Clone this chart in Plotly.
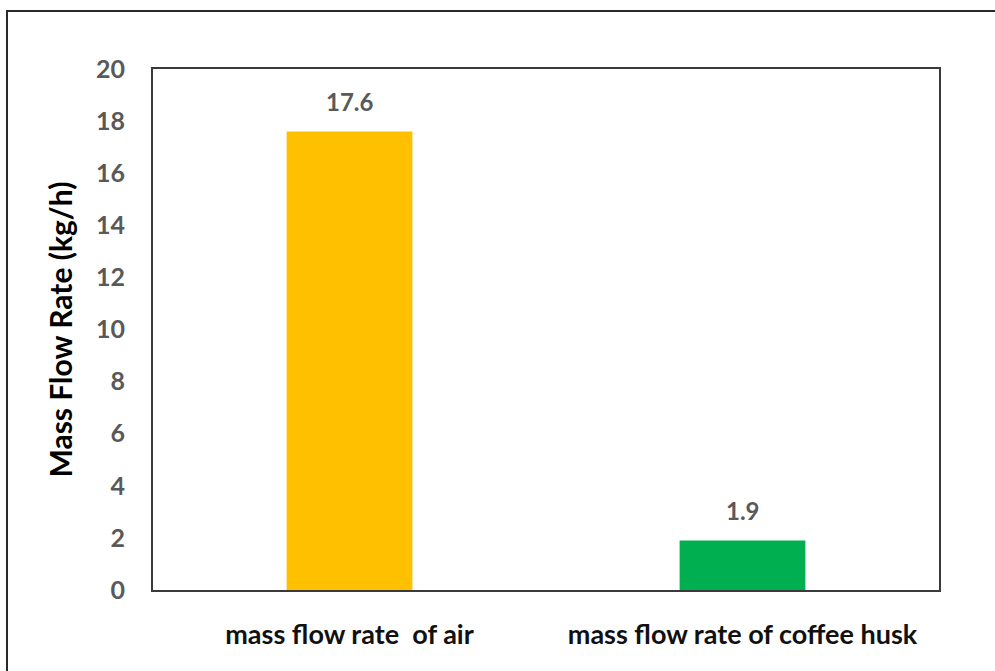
import plotly.graph_objects as go

categories = ["mass flow rate\u00a0\u00a0of air", "mass flow rate of coffee husk"]
values = [17.6, 1.9]
value_labels = ["17.6", "1.9"]
bar_colors = ["#FFC000", "#00B050"]
y_ticks = [0, 2, 4, 6, 8, 10, 12, 14, 16, 18, 20]

W, H = 995, 671
ML, MR, MT, MB = 153, 56, 69, 81
PW = W - ML - MR
PH = H - MT - MB

FONT = "Lato"

fig = go.Figure()
fig.add_trace(go.Bar(
    x=categories,
    y=values,
    marker=dict(color=bar_colors, line=dict(width=0)),
    showlegend=False,
    hoverinfo="skip",
))

for c, v, t in zip(categories, values, value_labels):
    fig.add_annotation(
        x=c, y=v, text=t, showarrow=False,
        xanchor="center", yanchor="bottom", yshift=14,
        font=dict(family=FONT, size=24, color="#595959", weight="bold"),
    )

fig.update_layout(
    width=W, height=H,
    margin=dict(l=ML, r=MR, t=MT, b=MB, pad=0),
    paper_bgcolor="white",
    plot_bgcolor="white",
    bargap=0.68,
    xaxis=dict(
        showline=True, linecolor="#3a3a3a", linewidth=2, mirror=True,
        showgrid=False, ticks="", zeroline=False,
        tickfont=dict(family=FONT, size=27, color="#111111", weight="bold"),
        ticklabelstandoff=20,
    ),
    yaxis=dict(
        range=[0, 20],
        tickvals=y_ticks,
        showline=True, linecolor="#3a3a3a", linewidth=2, mirror=True,
        showgrid=False, ticks="", zeroline=False,
        tickfont=dict(family=FONT, size=25, color="#595959", weight="bold"),
        ticklabelstandoff=21,
    ),
)

fig.add_annotation(
    text="Mass Flow Rate (kg/h)",
    xref="paper", yref="paper",
    x=(59 - ML) / PW, y=0.5,
    xanchor="center", yanchor="middle",
    textangle=-90, showarrow=False,
    font=dict(family=FONT, size=30, color="#000000", weight="bold"),
)

# outer chart border (extends past the right and bottom edges)
fig.add_shape(
    type="rect", xref="paper", yref="paper",
    x0=(7 - ML) / PW, x1=(W + 20 - ML) / PW,
    y0=-(H + 20 - MT - PH) / PH, y1=(H - 11 - MB) / PH,
    line=dict(color="#2a2a2a", width=2), fillcolor="rgba(0,0,0,0)",
    layer="below",
)

fig.write_html(
    "out.html",
    config={"displayModeBar": False},
    post_script="document.body.style.margin='0';document.body.style.overflow='hidden';",
)
